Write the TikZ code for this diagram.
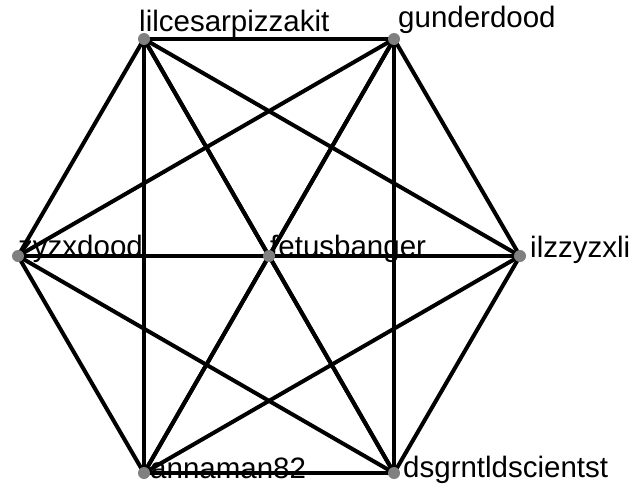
\documentclass[tikz,border=0pt]{standalone}
\usepackage{fontspec}
\setmainfont{Liberation Sans}
\begin{document}
\begin{tikzpicture}[x=1pt,y=-1pt,
  vert/.style={circle,fill=black!50,inner sep=0pt,minimum size=12pt},
  lbl/.style={anchor=base west,inner sep=0pt,font=\fontsize{29.5}{30}\selectfont},
  edge/.style={line width=4pt,black}]
\useasboundingbox (0,0) rectangle (636,487);
% labels
\node[lbl] (ltl) at (139,31) {lilcesarpizzakit};
\node[lbl] (ltr) at (398,28) {gunderdood};
\node[lbl] (ll) at (18,256) {zyzxdood};
\node[lbl] (lc) at (270,256) {fetusbanger};
\node[lbl] (lr) at (530,257) {ilzzyzxli};
\node[lbl] (lbl) at (150,478) {annaman82};
\node[lbl] (lbr) at (403,477) {dsgrntldscientst};
% vertex positions
\coordinate (tl) at (144,39);
\coordinate (tr) at (394,39);
\coordinate (l) at (18,256);
\coordinate (c) at (269,256);
\coordinate (r) at (520,256);
\coordinate (bl) at (144,473);
\coordinate (br) at (394,473);
% edges
\foreach \a/\b in {tl/tr,tl/l,tl/c,tl/r,tl/bl,tl/br,
                   tr/l,tr/c,tr/r,tr/bl,tr/br,
                   l/c,l/r,l/bl,l/br,
                   c/r,c/bl,c/br,
                   r/bl,r/br,
                   bl/br}
  \draw[edge] (\a) -- (\b);
% vertex markers
\foreach \v in {tl,tr,l,c,r,bl,br}
  \node[vert] (m\v) at (\v) {};
\end{tikzpicture}
\end{document}
